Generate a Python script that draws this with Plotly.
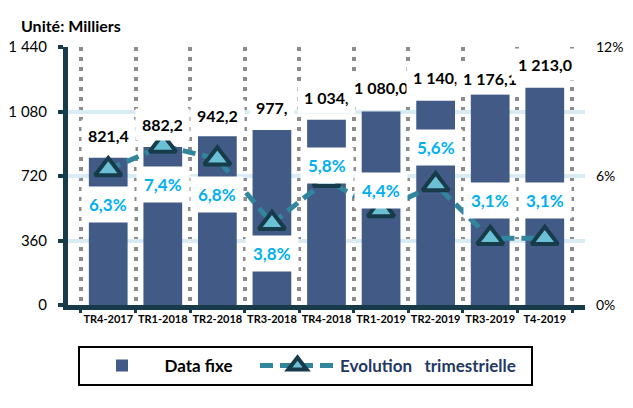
"""Quarterly fixed data subscribers (bars) with quarterly growth rate (line)."""
import plotly.graph_objects as go

# data
quarters = ["TR4-2017", "TR1-2018", "TR2-2018", "TR3-2018", "TR4-2018",
            "TR1-2019", "TR2-2019", "TR3-2019", "T4-2019"]
data_fixe = [821.4, 882.2, 942.2, 977.0, 1034.0, 1080.0, 1140.0, 1176.1, 1213.0]
bar_labels = ["821,4", "882,2", "942,2", "977,", "1 034,", "1 080,0", "1 140,", "1 176,1", "1 213,0"]
evolution = [6.3, 7.4, 6.8, 3.8, 5.8, 4.4, 5.6, 3.1, 3.1]

# label offsets in px (label centre relative to the point), as placed in the original
bar_label_shift = [22, 22, 21, 22, 22, 24, 23, 16, 23]
pct_label_shift = [-35, -39, -36, -30, 15, 20, 37, 38, 38]

FONT = "Lato"
DARK = "#173B49"
BAR = "#425B86"
LINE = "#31859C"
NB = "\u00a0"

# the page body has an 8px margin, so the figure starts at (8, 8) in the window;
# keep the page short enough that no scrollbar appears
OFF = 8
W, H = 633 - OFF, 386
# plot area in window px: x 68..585, y 47..305
L, T = 68 - OFF, 47 - OFF
R = W - (585 - OFF)
B = H - (305 - OFF)
PW, PH = W - L - R, H - T - B


def px_x(x):
    """window x pixel -> paper coordinate"""
    return (x - OFF - L) / PW


def px_y(y):
    """window y pixel -> paper coordinate"""
    return (T + PH - (y - OFF)) / PH


fig = go.Figure()
fig.add_trace(go.Bar(
    x=quarters, y=data_fixe, name=f"<b>Data fixe</b>{NB * 4}",
    marker=dict(color=BAR, line=dict(width=0)),
))
fig.add_trace(go.Scatter(
    x=quarters, y=evolution, yaxis="y2", mode="lines+markers",
    name=f"<span style='color:#1F3864'><b>Evolution{NB * 3}trimestrielle</b></span>{NB * 2}",
    line=dict(color=LINE, width=5, dash="13px,7px"),
    marker=dict(symbol="triangle-up", size=23, color="#6CC0D5",
                line=dict(color=DARK, width=4)),
))

annotations = []
for q, v, txt, s in zip(quarters, data_fixe, bar_labels, bar_label_shift):
    annotations.append(dict(
        x=q, y=v, xref="x", yref="y", text=f"<b>{txt}</b>", showarrow=False,
        yshift=s, bgcolor="white", borderpad=6,
        font=dict(family=FONT, size=16, color="black"),
    ))
for q, v, s in zip(quarters, evolution, pct_label_shift):
    annotations.append(dict(
        x=q, y=v, xref="x", yref="y2", text=f"<b>{v:.1f}%</b>".replace(".", ","),
        showarrow=False, yshift=s, bgcolor="white", borderpad=7,
        font=dict(family=FONT, size=17, color="#00B0F0"),
    ))
annotations.append(dict(
    x=px_x(19), y=px_y(25), xref="paper", yref="paper",
    xanchor="left", yanchor="middle", showarrow=False,
    text="<b>Unité: Milliers</b>", font=dict(family=FONT, size=16, color="black"),
))

fig.update_layout(
    width=W, height=H,
    margin=dict(l=L, r=R, t=T, b=B, autoexpand=False),
    paper_bgcolor="white", plot_bgcolor="white",
    separators=", ",
    font=dict(family=FONT, color="black"),
    bargap=0.29,
    showlegend=True,
    legend=dict(
        orientation="h", x=px_x(305), xanchor="center",
        y=px_y(346), yanchor="top",
        bordercolor="black", borderwidth=2, bgcolor="white",
        font=dict(family=FONT, size=17, color="black"),
        itemwidth=75,
    ),
    xaxis=dict(
        type="category", tickson="boundaries", tickangle=0,
        showgrid=True, gridcolor="#8C8C8C", gridwidth=4, griddash="4px,6px",
        showline=True, linecolor=DARK, linewidth=5,
        ticks="outside", ticklen=3, tickwidth=3, tickcolor=DARK,
        tickfont=dict(family=FONT, size=11, color="black", weight="bold"),
    ),
    yaxis=dict(
        range=[0, 1440], dtick=360, tickformat=",d",
        showgrid=True, gridcolor="#D9ECF3", gridwidth=4, zeroline=False,
        showline=True, linecolor=DARK, linewidth=5,
        ticks="outside", ticklen=5, tickwidth=4, tickcolor=DARK,
        ticklabelstandoff=8,
        tickfont=dict(family=FONT, size=15, color="black"),
    ),
    yaxis2=dict(
        range=[0, 12], dtick=6, ticksuffix="%", overlaying="y", side="right",
        showgrid=False, zeroline=False, showline=False,
        ticklabelstandoff=10,
        tickfont=dict(family=FONT, size=14, color="black"),
    ),
    annotations=annotations,
    shapes=[dict(
        type="rect", xref="paper", yref="paper",
        x0=px_x(6), x1=px_x(645), y0=px_y(420), y1=px_y(6),
        line=dict(color="#A6A6A6", width=2), fillcolor="rgba(0,0,0,0)", layer="below",
    )],
)

fig.write_html("out.html")
